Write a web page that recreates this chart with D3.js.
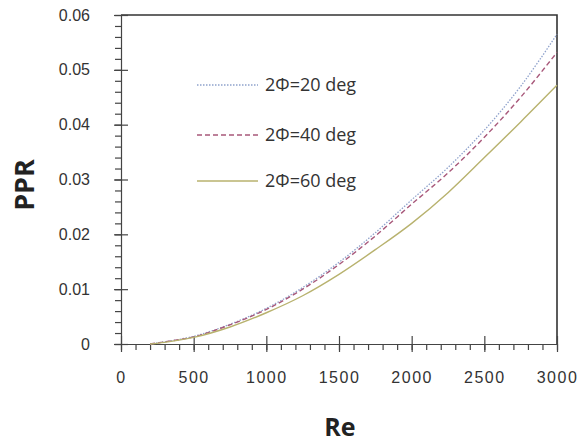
<!DOCTYPE html>
<html>
<head>
<meta charset="utf-8">
<script src="https://cdn.jsdelivr.net/npm/d3@7"></script>
<style>
  body { margin: 0; background: #fff; }
  svg { font-family: "Open Sans", "DejaVu Sans", sans-serif; }
  .tick text { font-size: 16px; fill: #333; }
  .xaxis .tick text { letter-spacing: 1.5px; }
  .axis path, .axis line { stroke: #444; }
</style>
</head>
<body>
<script>
// Re values where the curves were read
var reValues = [200, 300, 500, 750, 1000, 1250, 1500, 1750, 2000, 2250, 2500, 2750, 3000];
// PPR for each half-angle
var ppr20 = [0, 0.0004, 0.0014, 0.0036, 0.0065, 0.0103, 0.0149, 0.0203, 0.0263, 0.0322, 0.0390, 0.0470, 0.0565];
var ppr40 = [0, 0.0004, 0.0013, 0.0035, 0.0063, 0.0100, 0.0145, 0.0197, 0.0255, 0.0312, 0.0377, 0.0450, 0.0532];
var ppr60 = [0, 0.0003, 0.0012, 0.0031, 0.0057, 0.0088, 0.0127, 0.0172, 0.0220, 0.0276, 0.0340, 0.0405, 0.0472];
var seriesNames = ["2\u03A6=20 deg", "2\u03A6=40 deg", "2\u03A6=60 deg"];
var xTicks = [0, 500, 1000, 1500, 2000, 2500, 3000];
var yTicks = [0, 0.01, 0.02, 0.03, 0.04, 0.05, 0.06];

var width = 585, height = 445,
    plotLeft = 121, plotRight = 557, plotTop = 15, plotBottom = 344;

var svg = d3.select("body").append("svg")
    .attr("width", width)
    .attr("height", height);

var x = d3.scaleLinear().domain([0, 3000]).range([plotLeft, plotRight]);
var y = d3.scaleLinear().domain([0, 0.06]).range([plotBottom, plotTop]);

// frame (top and right)
svg.append("path")
    .attr("d", "M" + plotLeft + "," + plotTop + "H" + plotRight + "V" + plotBottom)
    .attr("fill", "none")
    .attr("stroke", "#333")
    .attr("stroke-width", 1.6);

// minor ticks
svg.append("g")
    .attr("class", "axis")
    .attr("transform", "translate(0," + plotBottom + ")")
    .call(d3.axisBottom(x).tickValues(d3.range(0, 3001, 100)).tickSize(6).tickFormat(""))
    .call(function(g){ g.select(".domain").remove(); });
svg.append("g")
    .attr("class", "axis")
    .attr("transform", "translate(" + plotLeft + ",0)")
    .call(d3.axisLeft(y).tickValues(d3.range(0, 31).map(function(i){ return i * 0.002; })).tickSize(6).tickFormat(""))
    .call(function(g){ g.select(".domain").remove(); });

// major ticks, crossing the axis
var xAxis = svg.append("g")
    .attr("class", "axis xaxis")
    .attr("transform", "translate(0," + plotBottom + ")")
    .call(d3.axisBottom(x).tickValues(xTicks).tickSizeInner(8).tickSizeOuter(0).tickPadding(20).tickFormat(d3.format("d")));
xAxis.selectAll(".tick line").attr("y1", -8);

var yAxis = svg.append("g")
    .attr("class", "axis")
    .attr("transform", "translate(" + plotLeft + ",0)")
    .call(d3.axisLeft(y).tickValues(yTicks).tickSizeInner(7).tickSizeOuter(0).tickPadding(24)
        .tickFormat(function(d){ return d === 0 ? "0" : d3.format(".2f")(d); }));
yAxis.selectAll(".tick line").attr("x1", 7);

svg.selectAll(".axis path, .axis line").attr("stroke-width", 1.2);

// curves
var series = [
    {name: seriesNames[0], values: ppr20, color: "#8fa2cc", dash: "1.5,1.5", width: 1.3},
    {name: seriesNames[1], values: ppr40, color: "#a8587a", dash: "5,3", width: 1.4},
    {name: seriesNames[2], values: ppr60, color: "#b8b26e", dash: null, width: 1.4}
];

var line = d3.line()
    .x(function(d, i){ return x(reValues[i]); })
    .y(function(d){ return y(d); })
    .curve(d3.curveMonotoneX);

svg.selectAll(".curve")
    .data(series)
    .enter()
    .append("path")
    .attr("class", "curve")
    .attr("d", function(d){ return line(d.values); })
    .attr("fill", "none")
    .attr("stroke", function(d){ return d.color; })
    .attr("stroke-width", function(d){ return d.width; })
    .attr("stroke-dasharray", function(d){ return d.dash; });

// legend
var legendRows = [85, 135, 181];
var legend = svg.selectAll(".legend")
    .data(series)
    .enter()
    .append("g")
    .attr("class", "legend")
    .attr("transform", function(d, i){ return "translate(0," + legendRows[i] + ")"; });
legend.append("line")
    .attr("x1", 197).attr("x2", 258)
    .attr("y1", 0).attr("y2", 0)
    .attr("stroke", function(d){ return d.color; })
    .attr("stroke-width", function(d){ return d.width; })
    .attr("stroke-dasharray", function(d){ return d.dash; });
legend.append("text")
    .attr("x", 265)
    .attr("y", 0)
    .attr("dy", "0.35em")
    .attr("font-size", 18)
    .attr("fill", "#333")
    .text(function(d){ return d.name; });

// axis titles
svg.append("text")
    .attr("x", 340)
    .attr("y", 436)
    .attr("text-anchor", "middle")
    .attr("font-size", 25)
    .attr("font-weight", "bold")
    .attr("fill", "#222")
    .text("Re");

svg.append("text")
    .attr("transform", "translate(34,185) rotate(-90)")
    .attr("text-anchor", "middle")
    .attr("font-size", 27)
    .attr("font-weight", "bold")
    .attr("fill", "#222")
    .text("PPR");
</script>
</body>
</html>
